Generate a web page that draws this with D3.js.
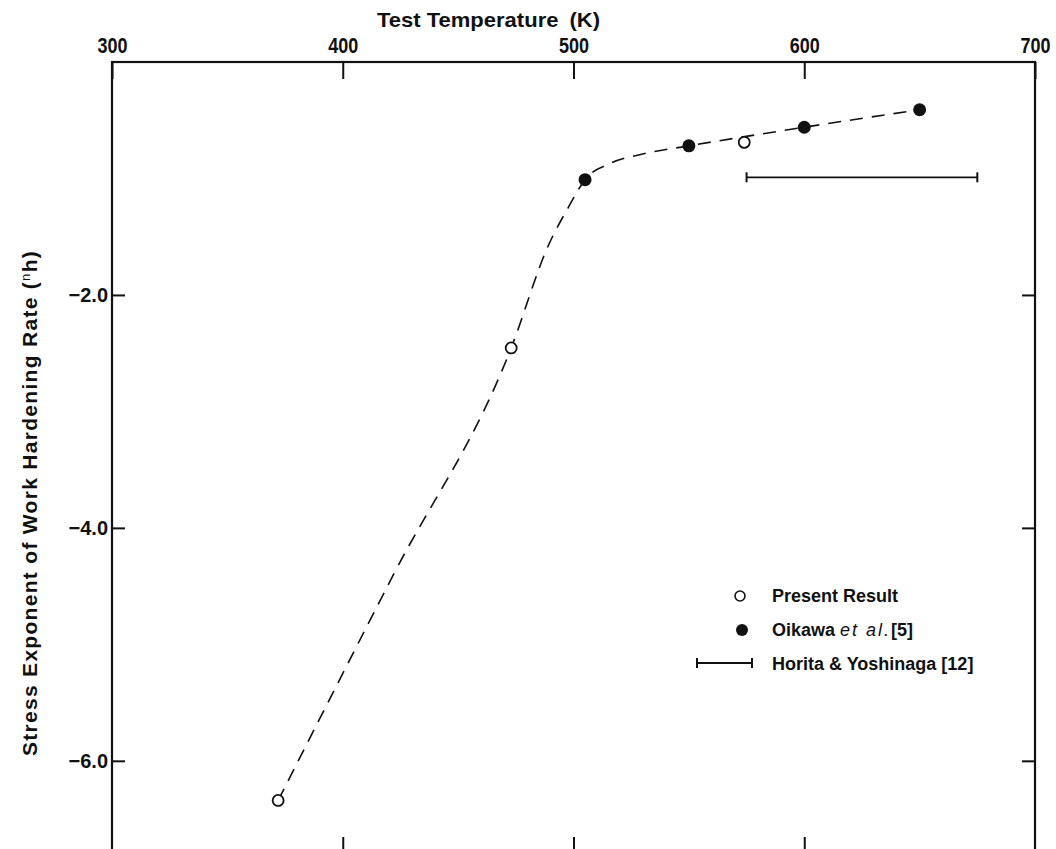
<!DOCTYPE html>
<html>
<head>
<meta charset="utf-8">
<script src="https://cdn.jsdelivr.net/npm/d3@7"></script>
<style>
  body { margin: 0; background: #fff; }
  svg { display: block; }
</style>
</head>
<body>
<script>
var svgWidth = 1056;
var svgHeight = 849;

// Datos
var presentResult = [
  { temp: 372, nh: -6.34 },
  { temp: 473, nh: -2.455 },
  { temp: 574, nh: -0.69 }
];
var oikawa = [
  { temp: 505, nh: -1.01 },
  { temp: 550, nh: -0.72 },
  { temp: 600, nh: -0.56 },
  { temp: 650, nh: -0.41 }
];
var horita = { from: 575, to: 675, nh: -0.99 };
// curva a trazos dibujada a mano en el original
var fitCurve = [
  { temp: 372, nh: -6.34 },
  { temp: 422, nh: -4.40 },
  { temp: 473, nh: -2.455 },
  { temp: 489, nh: -1.58 },
  { temp: 498, nh: -1.24 },
  { temp: 505, nh: -1.01 },
  { temp: 516, nh: -0.87 },
  { temp: 530, nh: -0.79 },
  { temp: 550, nh: -0.72 },
  { temp: 600, nh: -0.56 },
  { temp: 650, nh: -0.41 }
];
var xTicks = [300, 400, 500, 600, 700];
var yTicks = [-2.0, -4.0, -6.0];

var mLeft = 112, mRight = 1035, mTop = 62, mBottom = 854;

var svg = d3.select("body")
  .append("svg")
  .attr("width", svgWidth)
  .attr("height", svgHeight);

var xScale = d3.scaleLinear().domain([300, 700]).range([mLeft, mRight]);
var yScale = d3.scaleLinear().domain([0, -6.8]).range([mTop, mBottom]);

var ink = "#111";
var sans = "'Liberation Sans', Arial, sans-serif";

// Marco
svg.append("rect")
  .attr("x", mLeft).attr("y", mTop)
  .attr("width", mRight - mLeft).attr("height", mBottom - mTop)
  .attr("fill", "none").attr("stroke", ink).attr("stroke-width", 2.2);

// Eje superior
var topAxis = svg.append("g")
  .attr("transform", "translate(0," + mTop + ")")
  .call(d3.axisTop(xScale).tickValues(xTicks).tickSize(-17).tickPadding(9).tickFormat(d3.format("d")));
topAxis.select(".domain").remove();
topAxis.selectAll("line").attr("stroke", ink).attr("stroke-width", 2);
topAxis.selectAll("text")
  .attr("fill", ink)
  .attr("textLength", 30).attr("lengthAdjust", "spacingAndGlyphs")
  .style("font-family", sans).style("font-weight", "bold").style("font-size", "22px");

// Eje inferior (solo marcas)
var bottomAxis = svg.append("g")
  .attr("transform", "translate(0," + mBottom + ")")
  .call(d3.axisBottom(xScale).tickValues([400, 500, 600]).tickSize(-17).tickFormat(""));
bottomAxis.select(".domain").remove();
bottomAxis.selectAll("line").attr("stroke", ink).attr("stroke-width", 2);

// Eje izquierdo
var leftAxis = svg.append("g")
  .attr("transform", "translate(" + mLeft + ",0)")
  .call(d3.axisLeft(yScale).tickValues(yTicks).tickSize(-13).tickPadding(4).tickFormat(d3.format(".1f")));
leftAxis.select(".domain").remove();
leftAxis.selectAll("line").attr("stroke", ink).attr("stroke-width", 2);
leftAxis.selectAll("text")
  .attr("fill", ink)
  .style("font-family", sans).style("font-weight", "bold").style("font-size", "20px");

// Eje derecho (solo marcas)
var rightAxis = svg.append("g")
  .attr("transform", "translate(" + mRight + ",0)")
  .call(d3.axisRight(yScale).tickValues(yTicks).tickSize(-13).tickFormat(""));
rightAxis.select(".domain").remove();
rightAxis.selectAll("line").attr("stroke", ink).attr("stroke-width", 2);

// Titulo superior
svg.append("text")
  .attr("x", 377).attr("y", 27)
  .attr("textLength", 223).attr("lengthAdjust", "spacingAndGlyphs")
  .attr("fill", ink)
  .style("font-family", sans).style("font-weight", "bold").style("font-size", "21px")
  .text("Test Temperature\u2002(K)");

// Titulo eje y
var yLabel = svg.append("text")
  .attr("transform", "translate(37," + 503 + ") rotate(-90)")
  .attr("text-anchor", "middle")
  .attr("fill", ink)
  .style("font-family", sans).style("font-weight", "bold").style("font-size", "21px")
  .style("letter-spacing", "1.3px");
yLabel.append("tspan").text("Stress Exponent of Work Hardening Rate (");
yLabel.append("tspan").attr("dy", -7).style("font-size", "13px").style("font-weight", "normal").text("n");
yLabel.append("tspan").attr("dy", 7).text("h)");

// Curva a trazos
var line = d3.line()
  .x(function(d) { return xScale(d.temp); })
  .y(function(d) { return yScale(d.nh); })
  .curve(d3.curveMonotoneX);

svg.append("path")
  .datum(fitCurve)
  .attr("d", line)
  .attr("fill", "none")
  .attr("stroke", ink)
  .attr("stroke-width", 1.6)
  .attr("stroke-dasharray", "13,9");

// Barra Horita & Yoshinaga
function drawBar(g, x1, x2, y) {
  g.append("line").attr("x1", x1).attr("x2", x2).attr("y1", y).attr("y2", y)
    .attr("stroke", ink).attr("stroke-width", 1.8);
  [x1, x2].forEach(function(x) {
    g.append("line").attr("x1", x).attr("x2", x).attr("y1", y - 5).attr("y2", y + 5)
      .attr("stroke", ink).attr("stroke-width", 2);
  });
}
drawBar(svg, xScale(horita.from), xScale(horita.to), yScale(horita.nh));

// Puntos
svg.selectAll(".oikawa")
  .data(oikawa)
  .enter().append("circle")
  .attr("class", "oikawa")
  .attr("cx", function(d) { return xScale(d.temp); })
  .attr("cy", function(d) { return yScale(d.nh); })
  .attr("r", 6.5)
  .attr("fill", ink);

svg.selectAll(".present")
  .data(presentResult)
  .enter().append("circle")
  .attr("class", "present")
  .attr("cx", function(d) { return xScale(d.temp); })
  .attr("cy", function(d) { return yScale(d.nh); })
  .attr("r", 5.5)
  .attr("fill", "#fff")
  .attr("stroke", ink)
  .attr("stroke-width", 1.8);

// Leyenda
var legend = svg.append("g");
var legFont = function(t) {
  return t.attr("fill", ink).style("font-family", sans).style("font-weight", "bold").style("font-size", "18px");
};
legend.append("circle").attr("cx", 740).attr("cy", 596).attr("r", 5)
  .attr("fill", "#fff").attr("stroke", ink).attr("stroke-width", 1.6);
legFont(legend.append("text").attr("x", 772).attr("y", 602)).text("Present Result");

legend.append("circle").attr("cx", 742).attr("cy", 630).attr("r", 6).attr("fill", ink);
var oik = legFont(legend.append("text").attr("x", 772).attr("y", 636));
oik.append("tspan").text("Oikawa ");
oik.append("tspan").style("font-family", sans).style("font-weight", "normal").style("font-style", "italic")
  .style("letter-spacing", "2px").text("et al.");
oik.append("tspan").text("[5]");

drawBar(legend, 697, 752, 663);
legFont(legend.append("text").attr("x", 772).attr("y", 670)).text("Horita & Yoshinaga [12]");
</script>
</body>
</html>
